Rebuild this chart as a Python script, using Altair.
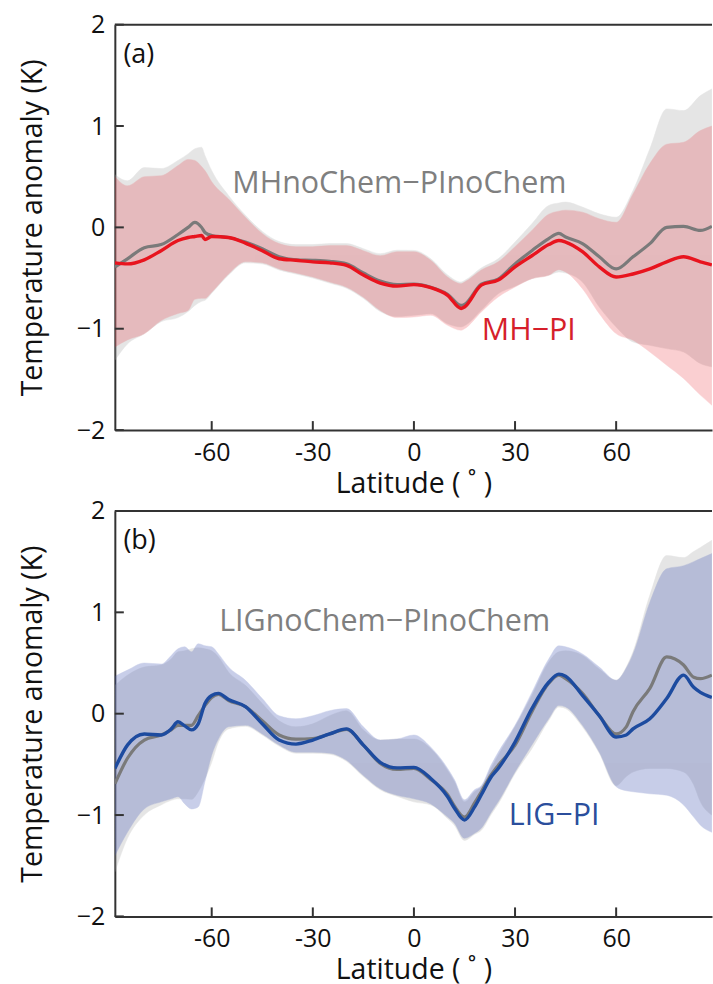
import altair as alt
import pandas as pd

# ---------------- data ----------------
LAT_A = [-88.7, -85, -80, -75, -70, -67, -65, -63, -62, -60, -55, -50, -45, -40, -35, -30,
         -25, -20, -15, -10, -5, 0, 5, 10, 14, 15, 20, 25, 30, 35, 40, 43, 45, 50, 55, 60,
         65, 70, 75, 80, 85, 88.4]
MHNOCHEM_MEAN = [-0.39, -0.31, -0.20, -0.17, -0.07, -0.0, 0.05, 0.0, -0.05, -0.08, -0.10, -0.145,
                 -0.21, -0.29, -0.32, -0.325, -0.335, -0.36, -0.45, -0.53, -0.565, -0.56, -0.59,
                 -0.66, -0.77, -0.76, -0.56, -0.51, -0.36, -0.23, -0.11, -0.06, -0.095, -0.16,
                 -0.29, -0.41, -0.29, -0.16, 0.0, 0.01, -0.03, 0.01]
MHNOCHEM_HI = [0.52, 0.46, 0.59, 0.58, 0.66, 0.725, 0.775, 0.79, 0.71, 0.56, 0.315, 0.12, -0.04,
               -0.14, -0.17, -0.17, -0.16, -0.16, -0.21, -0.26, -0.225, -0.227, -0.31, -0.47,
               -0.54, -0.525, -0.40, -0.31, -0.145, 0.036, 0.216, 0.24, 0.25, 0.20, 0.134, 0.10,
               0.364, 0.775, 1.169, 1.152, 1.30, 1.366]
MHNOCHEM_LO = [-1.31, -1.15, -1.05, -0.93, -0.89, -0.83, -0.77, -0.73, -0.72, -0.65, -0.47, -0.35,
               -0.36, -0.42, -0.46, -0.50, -0.55, -0.60, -0.70, -0.83, -0.88, -0.867, -0.851,
               -0.95, -0.982, -0.97, -0.818, -0.654, -0.581, -0.506, -0.473, -0.44, -0.45,
               -0.539, -0.785, -0.982, -1.13, -1.163, -1.196, -1.229, -1.343, -1.376]
MH_MEAN = [-0.35, -0.36, -0.32, -0.23, -0.13, -0.10, -0.09, -0.08, -0.12, -0.09, -0.10, -0.155,
           -0.23, -0.31, -0.325, -0.34, -0.35, -0.375, -0.47, -0.55, -0.58, -0.565, -0.595,
           -0.67, -0.80, -0.785, -0.57, -0.52, -0.39, -0.28, -0.17, -0.13, -0.145, -0.24,
           -0.39, -0.49, -0.46, -0.41, -0.34, -0.29, -0.34, -0.37]
MH_HI = [0.50, 0.41, 0.50, 0.51, 0.61, 0.67, 0.66, 0.60, 0.56, 0.45, 0.28, 0.10, -0.06, -0.16,
         -0.19, -0.19, -0.18, -0.18, -0.23, -0.28, -0.24, -0.24, -0.325, -0.49, -0.555, -0.54,
         -0.42, -0.34, -0.19, -0.03, 0.13, 0.16, 0.17, 0.15, 0.085, 0.05, 0.33, 0.63, 0.82,
         0.84, 0.955, 1.0]
MH_LO = [-1.18, -1.11, -1.05, -0.92, -0.85, -0.82, -0.71, -0.70, -0.70, -0.64, -0.46, -0.34,
         -0.35, -0.41, -0.45, -0.49, -0.54, -0.59, -0.69, -0.82, -0.89, -0.884, -0.867, -0.966,
         -1.015, -1.0, -0.834, -0.687, -0.588, -0.506, -0.473, -0.417, -0.44, -0.605, -0.851,
         -1.048, -1.114, -1.229, -1.36, -1.49, -1.655, -1.754]

LAT_B = [-88.7, -85, -80, -75, -72, -70, -68, -66, -64, -62, -60, -58, -55, -50, -45, -40, -35,
         -30, -25, -20, -15, -10, -5, 0, 5, 10, 12, 15, 18, 20, 23, 25, 30, 35, 40, 43, 45, 50,
         55, 60, 63, 65, 70, 75, 80, 83, 85, 88.4]
LIGNOCHEM_MEAN = [-0.69, -0.44, -0.26, -0.21, -0.16, -0.115, -0.115, -0.115, -0.02, 0.08, 0.16,
                  0.19, 0.13, 0.07, -0.07, -0.21, -0.25, -0.245, -0.20, -0.155, -0.31, -0.49,
                  -0.55, -0.54, -0.65, -0.80, -0.91, -1.02, -0.88, -0.77, -0.60, -0.51, -0.31,
                  0.02, 0.30, 0.38, 0.345, 0.20, -0.02, -0.20, -0.13, 0.02, 0.25, 0.56, 0.48,
                  0.36, 0.345, 0.38]
LIGNOCHEM_HI = [0.28, 0.38, 0.46, 0.48, 0.54, 0.61, 0.62, 0.64, 0.65, 0.64, 0.62, 0.56, 0.41,
                0.28, 0.10, -0.07, -0.13, -0.10, -0.02, 0.03, -0.16, -0.26, -0.25, -0.25, -0.345,
                -0.56, -0.67, -0.87, -0.77, -0.72, -0.53, -0.41, -0.13, 0.18, 0.51, 0.61, 0.62,
                0.575, 0.44, 0.33, 0.46, 0.61, 1.17, 1.56, 1.54, 1.60, 1.64, 1.71]
LIGNOCHEM_LO = [-1.56, -1.23, -1.00, -0.90, -0.855, -0.84, -0.84, -0.845, -0.77, -0.64, -0.48,
                -0.28, -0.15, -0.125, -0.21, -0.32, -0.39, -0.39, -0.40, -0.47, -0.62, -0.75,
                -0.815, -0.87, -0.90, -1.035, -1.10, -1.25, -1.19, -1.15, -0.99, -0.89, -0.59,
                -0.345, -0.066, 0.066, 0.05, -0.13, -0.39, -0.71, -0.62, -0.575, -0.54, -0.54,
                -0.575, -0.70, -0.87, -1.00]
LIG_MEAN = [-0.54, -0.31, -0.20, -0.21, -0.15, -0.08, -0.12, -0.16, -0.10, 0.10, 0.18, 0.20, 0.14,
            0.07, -0.10, -0.26, -0.30, -0.26, -0.20, -0.15, -0.31, -0.48, -0.535, -0.53, -0.64,
            -0.82, -0.93, -1.05, -0.92, -0.80, -0.62, -0.54, -0.28, 0.05, 0.31, 0.39, 0.37,
            0.18, -0.02, -0.23, -0.21, -0.15, -0.05, 0.15, 0.38, 0.26, 0.21, 0.16]
LIG_HI = [0.37, 0.43, 0.50, 0.49, 0.575, 0.64, 0.66, 0.61, 0.69, 0.67, 0.66, 0.59, 0.46, 0.33,
          0.15, -0.02, -0.05, -0.02, 0.03, 0.05, -0.13, -0.26, -0.25, -0.21, -0.33, -0.54, -0.65,
          -0.85, -0.75, -0.71, -0.50, -0.38, -0.115, 0.21, 0.54, 0.67, 0.66, 0.59, 0.46, 0.33,
          0.45, 0.59, 1.10, 1.43, 1.46, 1.50, 1.53, 1.58]
LIG_LO = [-1.40, -1.17, -0.94, -0.87, -0.84, -0.82, -0.89, -0.94, -0.92, -0.67, -0.41, -0.25,
          -0.13, -0.115, -0.20, -0.31, -0.38, -0.38, -0.39, -0.46, -0.61, -0.74, -0.805, -0.84,
          -0.89, -1.02, -1.08, -1.23, -1.18, -1.13, -0.97, -0.87, -0.575, -0.31, -0.05, 0.08,
          0.066, -0.115, -0.38, -0.72, -0.76, -0.77, -0.79, -0.805, -0.90, -1.02, -1.10, -1.17]

X_TICKS = [-60, -30, 0, 30, 60]
Y_TICKS = [-2, -1, 0, 1, 2]

# text annotations: (text, latitude, value)
LABELS_A = [("MHnoChem\u2212PInoChem", -4.3, 0.335), ("MH\u2212PI", 34.1, -1.113)]
LABELS_B = [("LIGnoChem\u2212PInoChem", -8.7, 0.818), ("LIG\u2212PI", 41.6, -1.103)]
TAG_A = ("(a)", -86.2, 1.62)
TAG_B = ("(b)", -86.2, 1.62)
X_TITLE = "Latitude ( \u02da )"
Y_TITLE = "Temperature anomaly (K)"

# ---------------- styling ----------------
W, H = 598, 406
FONT = "Open Sans"
AX = "#333333"
X_DOMAIN = [-88.74, 88.44]


def panel(lat, g_mean, g_hi, g_lo, c_mean, c_hi, c_lo, line_col, band_col, band_op,
          text_col, labels, tag):
    df = pd.DataFrame({"lat": lat, "g_mean": g_mean, "g_hi": g_hi, "g_lo": g_lo,
                       "c_mean": c_mean, "c_hi": c_hi, "c_lo": c_lo})
    xs = alt.Scale(domain=X_DOMAIN, nice=False, zero=False)
    ys = alt.Scale(domain=[-2, 2], nice=False, zero=False)
    xax = alt.Axis(values=X_TICKS, title=X_TITLE,
                   labelExpr="datum.value < 0 ? '-' + abs(datum.value) : '' + datum.value")
    yax = alt.Axis(values=Y_TICKS, title=Y_TITLE,
                   labelExpr="datum.value < 0 ? '\u2212' + abs(datum.value) : '' + datum.value")
    X = alt.X("lat:Q", scale=xs, axis=xax)
    base = alt.Chart(df)
    gray_band = base.mark_area(color="#a8a8a8", opacity=0.3, stroke="#a8a8a8",
                               strokeWidth=1, strokeOpacity=0.5, clip=True,
                               interpolate="monotone").encode(
        x=X, y=alt.Y("g_hi:Q", scale=ys, axis=yax), y2="g_lo:Q")
    col_band = base.mark_area(color=band_col, opacity=band_op, stroke=band_col,
                              strokeWidth=1, strokeOpacity=0.45, clip=True,
                              interpolate="monotone").encode(
        x="lat:Q", y="c_hi:Q", y2="c_lo:Q")
    gray_line = base.mark_line(color="#7a7a7a", strokeWidth=3.2, clip=True,
                               interpolate="monotone").encode(x="lat:Q", y="g_mean:Q")
    col_line = base.mark_line(color=line_col, strokeWidth=3.4, clip=True,
                              interpolate="monotone").encode(x="lat:Q", y="c_mean:Q")

    ldf = pd.DataFrame({"t": [l[0] for l in labels], "x": [l[1] for l in labels],
                        "y": [l[2] for l in labels], "c": ["#7f7f7f", text_col]})
    texts = alt.Chart(ldf).mark_text(font=FONT, fontSize=30.5, align="center",
                                     baseline="alphabetic").encode(
        x="x:Q", y="y:Q", text="t:N", color=alt.Color("c:N", scale=None))
    tdf = pd.DataFrame({"t": [tag[0]], "x": [tag[1]], "y": [tag[2]]})
    tag_t = alt.Chart(tdf).mark_text(font=FONT, fontSize=27, align="left",
                                     baseline="alphabetic", color="#111111").encode(
        x="x:Q", y="y:Q", text="t:N")

    yt = alt.Chart(pd.DataFrame({"v": Y_TICKS})).mark_rule(color=AX, strokeWidth=2).encode(
        y="v:Q", x=alt.value(0), x2=alt.value(9))
    xt = alt.Chart(pd.DataFrame({"v": X_TICKS})).mark_rule(color=AX, strokeWidth=2).encode(
        x="v:Q", y=alt.value(H), y2=alt.value(H - 9))
    top = alt.Chart(pd.DataFrame({"v": [0]})).mark_rule(color=AX, strokeWidth=2).encode(
        x=alt.value(0), x2=alt.value(W), y=alt.value(0))

    return alt.layer(gray_band, col_band, gray_line, col_line, texts, tag_t, yt, xt, top).properties(
        width=W, height=H)


pa = panel(LAT_A, MHNOCHEM_MEAN, MHNOCHEM_HI, MHNOCHEM_LO, MH_MEAN, MH_HI, MH_LO,
           "#e8141e", "#e8202a", 0.21, "#d61f2b", LABELS_A, TAG_A)
pb = panel(LAT_B, LIGNOCHEM_MEAN, LIGNOCHEM_HI, LIGNOCHEM_LO, LIG_MEAN, LIG_HI, LIG_LO,
           "#1d4b9f", "#4a5db5", 0.3, "#2b4e9c", LABELS_B, TAG_B)

chart = alt.vconcat(pa, pb, spacing=1).properties(
    padding={"left": 18, "top": 12, "right": 0, "bottom": 0}
).configure_view(strokeWidth=0).configure_axis(
    grid=False, ticks=False, domainColor=AX, domainWidth=2,
    labelFont=FONT, labelFontSize=25, labelColor="#111111", labelPadding=10,
    titleFont=FONT, titleFontSize=28.5, titleFontWeight="normal", titleColor="#111111"
).configure_axisLeft(titlePadding=29).configure_axisBottom(titlePadding=4, labelPadding=10)

chart.save("out.html", embed_options={"renderer": "svg", "actions": False})
